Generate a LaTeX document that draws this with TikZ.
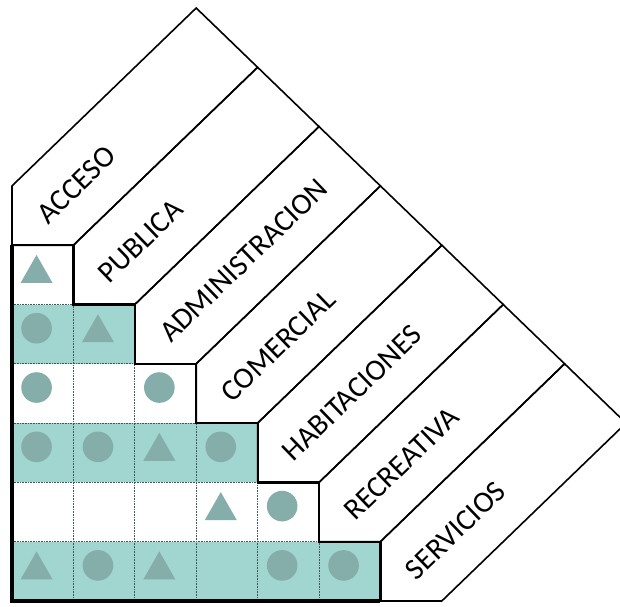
\documentclass[tikz,border=0pt]{standalone}
\usepackage{fontspec}
\setmainfont{Carlito}

\definecolor{sarcelle}{RGB}{160,213,208}
\definecolor{forme}{RGB}{133,173,169}
\definecolor{pointille}{RGB}{60,90,88}

\begin{document}
\begin{tikzpicture}[x=61.4pt, y=59.3pt]
  % Styles
  \tikzset{
    bande/.style={draw=black, line width=1.6pt, line join=miter},
    marche/.style={draw=black, line width=2.2pt, line join=miter},
    bord/.style={draw=black, line width=4pt, line join=miter},
    quadrillage/.style={draw=pointille, line width=0.8pt, dash pattern=on 0.8pt off 0.8pt},
    etiquette/.style={anchor=west, rotate=44, inner sep=0pt, font=\fontsize{30}{32}\selectfont},
    rond/.style={fill=forme},
    tri/.style={fill=forme},
  }

  % Cadre
  \useasboundingbox (-12pt,-5pt) rectangle (608pt,601pt);
  \clip (-12pt,-5pt) rectangle (608pt,601pt);

  % Cases (en escalier)
  \foreach \r/\der/\fond in {0/5/sarcelle, 1/4/white, 2/3/sarcelle, 3/2/white, 4/1/sarcelle, 5/0/white}
    \foreach \c in {0,...,\der}
      \fill[\fond] (\c,\r) rectangle ++(1,1);

  % Quadrillage pointille
  \foreach \i in {1,...,5} {
    \draw[quadrillage] (\i,0) -- (\i,6-\i);
    \draw[quadrillage] (0,\i) -- (6-\i,\i);
  }

  % Ronds
  \foreach \c/\r in {0/4, 0/3, 2/3, 0/2, 1/2, 3/2, 4/1, 1/0, 4/0, 5/0}
    \fill[rond] (\c+0.4,\r+0.6) circle (15.3pt);

  % Triangles
  \foreach \c/\r in {0/5, 1/4, 2/2, 3/1, 0/0, 2/0}
    \fill[tri, shift={(\c+0.4,\r+0.6)}] (-16pt,-14pt) -- (16pt,-14pt) -- (0pt,14pt) -- cycle;

  % Bandes inclinees
  \foreach \k in {0,...,6}
    \draw[bande] (\k,6-\k) -- (\k,7-\k) -- (\k+3,10-\k) -- (\k+4,9-\k) -- (\k+1,6-\k) -- cycle;

  % Escalier
  \draw[marche] (0,6) -- (1,6) -- (1,5) -- (2,5) -- (2,4) -- (3,4) -- (3,3)
    -- (4,3) -- (4,2) -- (5,2) -- (5,1) -- (6,1) -- (6,0);

  % Bords gauche et bas
  \draw[bord] (0,6) -- (0,0) -- (6,0);

  % Etiquettes
  \foreach \k/\nom in {0/ACCESO, 1/PUBLICA, 2/ADMINISTRACION, 3/COMERCIAL,
                       4/HABITACIONES, 5/RECREATIVA, 6/SERVICIOS}
    \node[etiquette] (bande-\k) at (\k+0.48,6.45-\k) {\nom};

\end{tikzpicture}
\end{document}
